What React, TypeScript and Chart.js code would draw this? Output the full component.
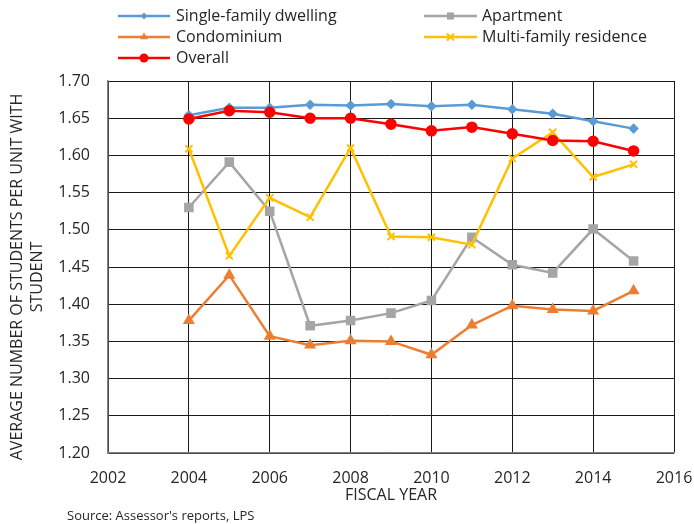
import React, { useEffect, useRef } from "react";
import { Chart, registerables } from "chart.js";

Chart.register(...registerables);

const years = [2004, 2005, 2006, 2007, 2008, 2009, 2010, 2011, 2012, 2013, 2014, 2015];
const singleFamily = [1.654, 1.664, 1.664, 1.668, 1.667, 1.669, 1.666, 1.668, 1.662, 1.656, 1.646, 1.636];
const apartment = [1.530, 1.591, 1.525, 1.371, 1.378, 1.388, 1.405, 1.490, 1.453, 1.442, 1.501, 1.458];
const condominium = [1.378, 1.439, 1.357, 1.345, 1.351, 1.350, 1.332, 1.372, 1.398, 1.393, 1.391, 1.418];
const multiFamily = [1.609, 1.465, 1.543, 1.517, 1.610, 1.491, 1.490, 1.480, 1.596, 1.631, 1.571, 1.588];
const overall = [1.649, 1.660, 1.658, 1.650, 1.650, 1.642, 1.633, 1.638, 1.629, 1.620, 1.619, 1.606];

const seriesNames = ["Single-family dwelling", "Apartment", "Condominium", "Multi-family residence", "Overall"];
const yTitleLines = ["AVERAGE NUMBER OF STUDENTS PER UNIT WITH", "STUDENT"];
const xTitle = "FISCAL YEAR";
const sourceText = "Source: Assessor's reports, LPS";

const FONT = "'Open Sans', sans-serif";
const TEXT = "#262626";

function drawMarker(ctx: CanvasRenderingContext2D, style: string, x: number, y: number, r: number, color: string) {
  ctx.save();
  ctx.fillStyle = color;
  ctx.strokeStyle = color;
  ctx.lineWidth = 2;
  ctx.beginPath();
  if (style === "circle") {
    ctx.arc(x, y, r, 0, Math.PI * 2);
    ctx.fill();
  } else if (style === "rect") {
    const s = r * Math.SQRT1_2;
    ctx.rect(x - s, y - s, 2 * s, 2 * s);
    ctx.fill();
  } else if (style === "rectRot") {
    ctx.moveTo(x, y - r);
    ctx.lineTo(x + r, y);
    ctx.lineTo(x, y + r);
    ctx.lineTo(x - r, y);
    ctx.closePath();
    ctx.fill();
  } else if (style === "triangle") {
    ctx.moveTo(x, y - r);
    ctx.lineTo(x + r * 0.866, y + r * 0.5);
    ctx.lineTo(x - r * 0.866, y + r * 0.5);
    ctx.closePath();
    ctx.fill();
  } else if (style === "crossRot") {
    const s = r * Math.SQRT1_2;
    ctx.moveTo(x - s, y - s);
    ctx.lineTo(x + s, y + s);
    ctx.moveTo(x - s, y + s);
    ctx.lineTo(x + s, y - s);
    ctx.stroke();
  }
  ctx.restore();
}

const decorPlugin = {
  id: "decor",
  afterDraw(chart: any) {
    const ctx: CanvasRenderingContext2D = chart.ctx;
    const area = chart.chartArea;
    ctx.save();
    // legend
    const cols = [
      { lx0: 118, lx1: 170, tx: 176 },
      { lx0: 424, lx1: 477, tx: 482 },
    ];
    const rowsY = [16, 37, 58];
    const layout = [
      [0, 0],
      [1, 0],
      [0, 1],
      [1, 1],
      [0, 2],
    ];
    chart.data.datasets.forEach((ds: any, i: number) => {
      const [c, r] = layout[i];
      const col = cols[c];
      const y = rowsY[r];
      ctx.strokeStyle = ds.borderColor;
      ctx.lineWidth = 2.5;
      ctx.beginPath();
      ctx.moveTo(col.lx0, y);
      ctx.lineTo(col.lx1, y);
      ctx.stroke();
      drawMarker(ctx, ds.pointStyle, (col.lx0 + col.lx1) / 2, y, ds.pointRadius, ds.borderColor);
      ctx.fillStyle = TEXT;
      ctx.font = `16px ${FONT}`;
      ctx.textAlign = "left";
      ctx.textBaseline = "middle";
      ctx.fillText(ds.label, col.tx, y);
    });
    // y title
    ctx.save();
    ctx.translate(0, 277);
    ctx.rotate(-Math.PI / 2);
    ctx.font = `16px ${FONT}`;
    ctx.fillStyle = TEXT;
    ctx.textAlign = "center";
    ctx.textBaseline = "middle";
    ctx.fillText(yTitleLines[0], 0, 17);
    ctx.fillText(yTitleLines[1], 0, 37);
    ctx.restore();
    // x title
    ctx.font = `16px ${FONT}`;
    ctx.fillStyle = TEXT;
    ctx.textAlign = "center";
    ctx.textBaseline = "middle";
    ctx.fillText(xTitle, (area.left + area.right) / 2, 495);
    // source
    ctx.font = `13px ${FONT}`;
    ctx.textAlign = "left";
    ctx.fillText(sourceText, 67, 516);
    ctx.restore();
  },
};

export default function App() {
  const ref = useRef<HTMLCanvasElement | null>(null);

  useEffect(() => {
    if (!ref.current) return;
    const mk = (vals: number[]) => years.map((y, i) => ({ x: y, y: vals[i] }));
    const chart = new Chart(ref.current, {
      type: "line",
      data: {
        datasets: [
          {
            label: seriesNames[0],
            data: mk(singleFamily),
            borderColor: "#5B9BD5",
            backgroundColor: "#5B9BD5",
            pointStyle: "rectRot",
            pointRadius: 3.5,
            borderWidth: 2.5,
            order: 5,
          },
          {
            label: seriesNames[1],
            data: mk(apartment),
            borderColor: "#A5A5A5",
            backgroundColor: "#A5A5A5",
            pointStyle: "rect",
            pointRadius: 5,
            borderWidth: 2.5,
            order: 4,
          },
          {
            label: seriesNames[2],
            data: mk(condominium),
            borderColor: "#ED7D31",
            backgroundColor: "#ED7D31",
            pointStyle: "triangle",
            pointRadius: 4.5,
            borderWidth: 2.5,
            order: 3,
          },
          {
            label: seriesNames[3],
            data: mk(multiFamily),
            borderColor: "#FFC000",
            backgroundColor: "#FFC000",
            pointStyle: "crossRot",
            pointRadius: 5,
            pointBorderWidth: 2,
            borderWidth: 2.5,
            order: 2,
          },
          {
            label: seriesNames[4],
            data: mk(overall),
            borderColor: "#FF0000",
            backgroundColor: "#FF0000",
            pointStyle: "circle",
            pointRadius: 4.5,
            borderWidth: 2.5,
            order: 1,
          },
        ] as any,
      },
      options: {
        animation: false,
        responsive: false,
        maintainAspectRatio: false,
        layout: { padding: { top: 81, right: 20, left: 0, bottom: 0 } },
        plugins: { legend: { display: false }, tooltip: { enabled: false } },
        elements: { line: { tension: 0 } },
        scales: {
          x: {
            type: "linear",
            min: 2002,
            max: 2016,
            ticks: {
              stepSize: 2,
              padding: 16,
              color: TEXT,
              font: { family: FONT, size: 16 },
              callback: (v: any) => String(v),
            },
            grid: { color: "#1a1a1a", lineWidth: 1, drawTicks: false },
            border: { color: "#7f7f7f", width: 1.5 },
            afterFit: (s: any) => {
              s.height = 71;
              s.paddingLeft = 0;
              s.paddingRight = 0;
            },
          },
          y: {
            min: 1.2,
            max: 1.7,
            ticks: {
              stepSize: 0.05,
              padding: 18,
              color: TEXT,
              font: { family: FONT, size: 16 },
              callback: (v: any) => Number(v).toFixed(2),
            },
            grid: { color: "#1a1a1a", lineWidth: 1, drawTicks: false },
            border: { color: "#7f7f7f", width: 1.5 },
            afterFit: (s: any) => {
              s.width = 108;
              s.paddingTop = 0;
              s.paddingBottom = 0;
            },
          },
        },
      } as any,
      plugins: [decorPlugin],
    });
    return () => chart.destroy();
  }, []);

  return (
    <div style={{ position: "fixed", left: 0, top: 0, width: 694, height: 524, background: "#fff" }}>
      <canvas ref={ref} width={694} height={524} style={{ width: 694, height: 524, display: "block" }} />
    </div>
  );
}
